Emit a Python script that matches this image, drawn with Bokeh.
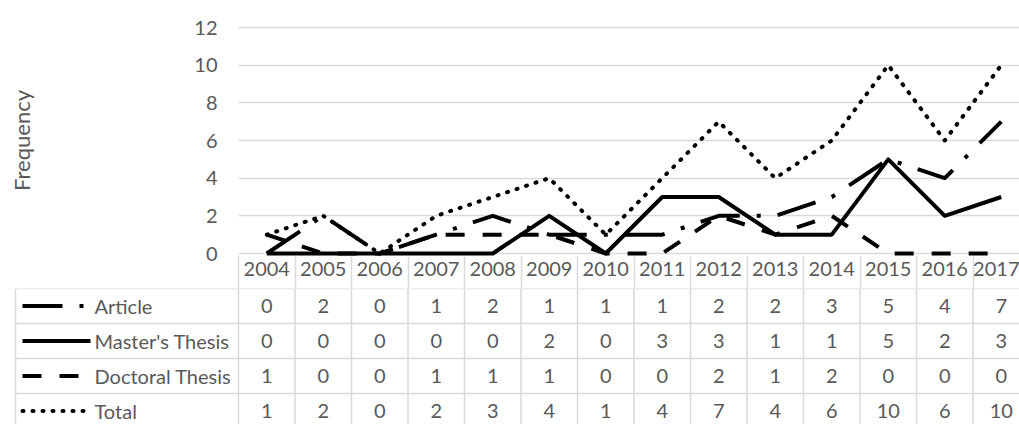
from bokeh.plotting import figure
from bokeh.models import Range1d, FixedTicker
from bokeh.layouts import column
from bokeh.embed import file_html
from bokeh.resources import INLINE
from bokeh.core.properties import value

# ---------------- data ----------------
years = ["2004", "2005", "2006", "2007", "2008", "2009", "2010",
         "2011", "2012", "2013", "2014", "2015", "2016", "2017"]
article = [0, 2, 0, 1, 2, 1, 1, 1, 2, 2, 3, 5, 4, 7]
masters = [0, 0, 0, 0, 0, 2, 0, 3, 3, 1, 1, 5, 2, 3]
doctoral = [1, 0, 0, 1, 1, 1, 0, 0, 2, 1, 2, 0, 0, 0]
total = [1, 2, 0, 2, 3, 4, 1, 4, 7, 4, 6, 10, 6, 10]
series_names = ["Article", "Master's Thesis", "Doctoral Thesis", "Total"]
y_ticks = [0, 2, 4, 6, 8, 10, 12]

# ---------------- layout / style ----------------
FONT = "Lato"
FS = "20px"
FS_TITLE = "22px"
TXT = "#595959"
GRID = "#d9d9d9"
INK = "#000000"
LW = 4

W, H = 1019, 424
PLOT_LEFT = 238          # px where the first year column starts
COL_W = 56.5             # px per year column
TOP_BORDER = 24
ZERO_PX = 253            # px of the zero line
FRAME_BOTTOM = 256
HEADER_BOTTOM = 288      # px where the header row ends
PX_PER_UNIT = (ZERO_PX - 27) / 12.0
ROW_H = 35
HEADER_H = HEADER_BOTTOM - FRAME_BOTTOM

styles = [
    dict(line_dash="40 17 4 17", line_cap="butt"),
    dict(line_dash="solid"),
    dict(line_dash="19 18", line_cap="butt"),
    dict(line_dash="1 9", line_cap="round"),
]
series = [article, masters, doctoral, total]
n = len(years)
nrows = len(series)
xc = [i + 0.5 for i in range(n)]

# ---------------- chart (with year header row as x axis) ----------------
pad = (FRAME_BOTTOM - ZERO_PX) / PX_PER_UNIT
top = 12 + (27 - TOP_BORDER) / PX_PER_UNIT
p = figure(width=W, height=HEADER_BOTTOM,
           x_range=Range1d(0, (W - PLOT_LEFT) / COL_W),
           y_range=Range1d(-pad, top),
           output_backend="svg", toolbar_location=None,
           min_border_left=PLOT_LEFT, min_border_right=0,
           min_border_top=TOP_BORDER,
           min_border_bottom=HEADER_H)
p.frame_align = False
p.outline_line_color = None
p.background_fill_color = "white"
p.border_fill_color = "white"
p.xgrid.visible = False

# x axis = header row of the data table
p.xaxis.ticker = FixedTicker(ticks=xc, minor_ticks=list(range(n + 1)))
p.xaxis.major_label_overrides = {x: y for x, y in zip(xc, years)}
p.xaxis.axis_line_color = None
p.xaxis.major_tick_line_color = None
p.xaxis.major_tick_out = 0
p.xaxis.major_tick_in = 0
p.xaxis.minor_tick_line_color = GRID
p.xaxis.minor_tick_line_width = 1.5
p.xaxis.minor_tick_out = HEADER_H + 2
p.xaxis.minor_tick_in = 0
p.xaxis.major_label_standoff = 5 - (HEADER_H + 2)
p.xaxis.major_label_text_font = FONT
p.xaxis.major_label_text_font_size = FS
p.xaxis.major_label_text_color = TXT

p.yaxis.ticker = FixedTicker(ticks=y_ticks)
p.yaxis.axis_line_color = None
p.yaxis.major_tick_line_color = None
p.yaxis.minor_tick_line_color = None
p.yaxis.major_tick_out = 0
p.yaxis.major_label_standoff = 21
p.yaxis.major_label_text_font = FONT
p.yaxis.major_label_text_font_size = FS
p.yaxis.major_label_text_color = TXT
p.yaxis.axis_label = "Frequency"
p.yaxis.axis_label_text_font = FONT
p.yaxis.axis_label_text_font_size = FS_TITLE
p.yaxis.axis_label_text_font_style = "normal"
p.yaxis.axis_label_text_color = TXT
p.yaxis.axis_label_standoff = 156
p.ygrid.grid_line_color = GRID
p.ygrid.grid_line_width = 1.5

for vals, st in zip(series, styles):
    p.line(x=xc, y=vals, line_color=INK, line_width=LW, line_join="round", **st)

# ---------------- data table body ----------------
TABLE_H = H - HEADER_BOTTOM
LEG_LEFT = (15 - PLOT_LEFT) / COL_W
SW0 = (22 - PLOT_LEFT) / COL_W
SW1 = (90 - PLOT_LEFT) / COL_W
LABEL_X = (94 - PLOT_LEFT) / COL_W

t = figure(width=W, height=TABLE_H,
           x_range=Range1d(-PLOT_LEFT / COL_W, (W - PLOT_LEFT) / COL_W),
           y_range=Range1d(start=TABLE_H / ROW_H, end=0),
           x_axis_type=None, y_axis_type=None,
           output_backend="svg", toolbar_location=None, min_border=0)
t.frame_align = False
t.outline_line_color = None
t.background_fill_color = "white"
t.border_fill_color = "white"

# vertical cell borders
t.segment(x0=list(range(n + 1)), x1=list(range(n + 1)),
          y0=[0] * (n + 1), y1=[nrows] * (n + 1),
          line_color=GRID, line_width=1.5)
t.segment(x0=[LEG_LEFT], x1=[LEG_LEFT], y0=[0], y1=[nrows],
          line_color=GRID, line_width=1.5)
# horizontal cell borders
t.segment(x0=[LEG_LEFT] * nrows, x1=[n] * nrows,
          y0=list(range(nrows)), y1=list(range(nrows)),
          line_color=GRID, line_width=1.5)

# values
cx, cy, ct = [], [], []
for k, vals in enumerate(series):
    for i, v in enumerate(vals):
        cx.append(xc[i])
        cy.append(k + 0.5)
        ct.append(str(v))
t.text(x=cx, y=cy, text=ct, text_font=value(FONT),
       text_font_size=FS, text_color=TXT,
       text_align="center", text_baseline="middle")

# legend keys + names
for k, st in enumerate(styles):
    t.segment(x0=[SW0], x1=[SW1], y0=[k + 0.5], y1=[k + 0.5],
              line_color=INK, line_width=LW, **st)
t.text(x=[LABEL_X] * nrows, y=[k + 0.5 for k in range(nrows)],
       text=series_names, text_font=value(FONT),
       text_font_size=FS, text_color=TXT,
       text_align="left", text_baseline="middle")

layout = column(p, t, spacing=0)
open("out.html", "w").write(file_html(layout, INLINE))
